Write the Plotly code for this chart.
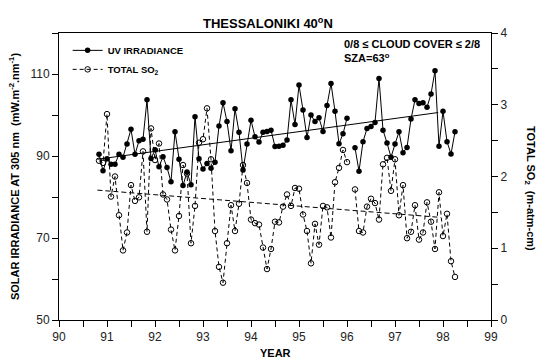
import plotly.graph_objects as go

# monthly data, Nov 1990 .. Apr 1998 (decimal years 90.83 .. 98.25)
start_year = 90 + 10/12
n_months = 90
years = [round(start_year + i/12, 4) for i in range(n_months)]

uv = [90.4, 86.4, 89.3, 88.0, 88.0, 90.4, 89.7, 92.9, 96.5, 90.4, 93.7, 94.1,
      103.7, 89.4, 91.5, 87.4, 89.8, 87.2, 83.7, 95.9, 89.2, 82.8, 86.1, 83.0,
      99.6, 89.3, 86.8, 88.2, 87.0, 88.5, 97.3, 103.0, 98.4, 91.3, 101.5, 95.8,
      86.6, 92.9, 98.7, 94.7, 93.4, 95.8, 96.0, 96.3, 92.3, 92.4, 92.6, 93.9,
      103.7, 97.7, 107.3, 101.2, 94.5, 100.0, 98.4, 99.3, 96.0, 102.3, 107.7, 100.9,
      93.0, 95.4, 99.2, None, 92.0, 86.3, 93.5, 96.7, 97.2, 98.2, 108.9, 96.3,
      93.2, 89.7, 92.9, 95.9, 90.8, 92.1, 99.0, 103.7, 102.8, 103.0, 101.9, 105.1,
      110.8, 92.4, 100.9, 93.5, 90.5, 95.9]

so2 = [2.22, 2.19, 2.87, 1.72, 2.00, 1.46, 0.97, 1.22, 1.88, 1.66, 1.71, 2.35,
       1.23, 2.67, 2.23, 2.46, 1.75, 1.68, 1.26, 0.97, 1.45, 2.16, 2.04, 1.07,
       1.59, 2.47, 2.52, 2.95, 2.24, 1.24, 0.74, 0.52, 1.07, 1.60, 1.24, 1.62,
       2.16, 1.91, 1.40, 1.35, 1.33, 1.01, 0.71, 0.99, 1.37, 1.36, 1.58, 1.75,
       1.59, 1.84, 1.83, 1.47, 1.24, 0.79, 1.34, 1.05, 1.59, 1.57, 1.15, 1.92,
       2.12, 2.37, 2.20, None, 1.82, 1.24, 1.22, 1.58, 1.69, 1.63, 1.40, 2.17,
       2.26, 1.80, 2.24, 1.46, 1.88, 1.14, 1.23, 1.60, 1.12, 1.22, 1.64, 1.37,
       0.99, 1.78, 1.17, 1.48, 0.82, 0.60]

# linear trend lines (end points)
uv_trend_x = [90.8, 97.9]
uv_trend_y = [89.2, 100.6]
so2_trend_x = [90.8, 97.95]
so2_trend_y = [1.81, 1.43]

FONT = "Liberation Sans, Arial, sans-serif"

fig = go.Figure()
fig.add_trace(go.Scatter(
    x=years, y=uv, mode="lines+markers", name="UV IRRADIANCE",
    line=dict(color="black", width=1),
    marker=dict(symbol="circle", size=5.5, color="black"),
    connectgaps=False))
fig.add_trace(go.Scatter(
    x=years, y=so2, mode="lines+markers", name="TOTAL SO<sub>2</sub>", yaxis="y2",
    line=dict(color="black", width=1, dash="4px,3px"),
    marker=dict(symbol="circle-open", size=5.5, color="black", line=dict(width=1)),
    connectgaps=False))
fig.add_trace(go.Scatter(
    x=uv_trend_x, y=uv_trend_y, mode="lines", showlegend=False,
    line=dict(color="black", width=1)))
fig.add_trace(go.Scatter(
    x=so2_trend_x, y=so2_trend_y, mode="lines", showlegend=False, yaxis="y2",
    line=dict(color="black", width=1, dash="5px,3px")))

tickfont = dict(family=FONT, size=12, color="#222")
fig.update_layout(
    width=546, height=362,
    margin=dict(l=59, r=55, t=33, b=42),
    paper_bgcolor="white", plot_bgcolor="white",
    font=dict(family=FONT, color="black"),
    showlegend=True,
    legend=dict(x=0.02, y=0.99, xanchor="left", yanchor="top",
                bgcolor="rgba(0,0,0,0)", tracegroupgap=0,
                font=dict(family=FONT, size=9.5, color="black", weight="bold")),
    xaxis=dict(range=[90, 99], tick0=90, dtick=1, ticks="outside", ticklen=6,
               tickcolor="black", showline=True, linecolor="black", linewidth=1,
               mirror=True, showgrid=False, zeroline=False, tickfont=tickfont,
               minor=dict(dtick=0.5, ticks="outside", ticklen=6, tickcolor="black")),
    yaxis=dict(range=[50, 120], tick0=50, dtick=20, ticks="outside", ticklen=6,
               tickcolor="black", showline=True, linecolor="black", linewidth=1,
               showgrid=False, zeroline=False, tickfont=tickfont,
               minor=dict(dtick=10, ticks="outside", ticklen=6, tickcolor="black"),
               title=dict(text="SOLAR IRRADIANCE AT 305 nm  (mW.m<sup>-2</sup>.nm<sup>-1</sup>)",
                          font=dict(family=FONT, size=11, color="black", weight="bold"),
                          standoff=8)),
    yaxis2=dict(range=[0, 4], tick0=0, dtick=1, overlaying="y", side="right",
                ticks="outside", ticklen=6, tickcolor="black", showline=True,
                linecolor="black", linewidth=1, showgrid=False, zeroline=False,
                tickfont=tickfont,
                minor=dict(dtick=0.5, ticks="outside", ticklen=6, tickcolor="black")),
)

bold = dict(family=FONT, color="black", weight="bold")
fig.add_annotation(text="THESSALONIKI 40<sup>o</sup>N", xref="paper", yref="paper",
                   x=(268 - 59) / 432, y=(320 - 23) / 287, xanchor="center", yanchor="middle",
                   showarrow=False, font=dict(size=13, **bold))
fig.add_annotation(text="0/8 ≤ CLOUD COVER ≤ 2/8<br>SZA=63<sup>o</sup>", xref="paper", yref="paper",
                   x=(342 - 59) / 432, y=(320 - 36) / 287, xanchor="left", yanchor="top",
                   align="left", showarrow=False, font=dict(size=11, **bold))
fig.add_annotation(text="TOTAL SO<sub>2</sub>  (m-atm-cm)", xref="paper", yref="paper",
                   x=(530 - 59) / 432, y=(320 - 188) / 287, xanchor="center", yanchor="middle",
                   textangle=90, showarrow=False, font=dict(size=11, **bold))
fig.add_annotation(text="YEAR", xref="paper", yref="paper",
                   x=(275 - 59) / 432, y=(320 - 353) / 287, xanchor="center", yanchor="middle",
                   showarrow=False, font=dict(size=11, **bold))

fig.write_html("out.html")
